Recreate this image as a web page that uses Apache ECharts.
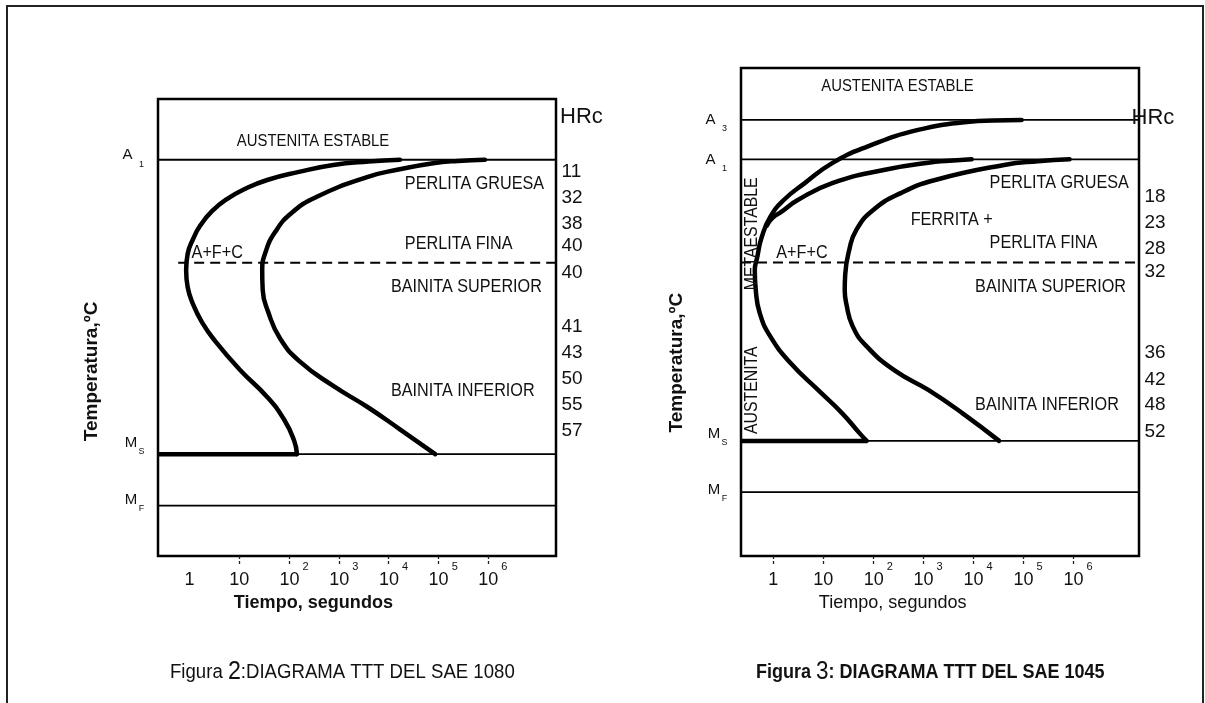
<!DOCTYPE html>
<html><head><meta charset="utf-8">
<script src="https://cdn.jsdelivr.net/npm/echarts@6/dist/echarts.min.js"></script>
<style>html,body{margin:0;padding:0;background:#fff}#c{width:1205px;height:703px}</style>
</head><body><div id="c"></div>
<script>
// ================= DATA =================
// x values are log10(time in seconds); y values are temperatures (°C, schematic)
const xLabelExp = [0, 1, 2, 3, 4, 5, 6];
const xTickExp1080 = [1, 2, 3, 4, 5, 6];
const xTickExp1045 = [0, 1, 2, 3, 4, 5, 6];

// ---- Figura 2: SAE 1080 ----
const critTemps1080 = [725, 216, 127];                 // A1, Ms, MF
const critNames1080 = [['A', '1'], ['M', 'S'], ['M', 'F']];
const critLabelTemps1080 = [733, 236, 137];
const bainite1080 = 547;
const start1080 = [[4.23,725],[3.6,722],[2.89,716],[2.2,704],[1.56,690],[1.1,674],[0.75,657],[0.45,636],[0.22,612],[0.07,588],[-0.04,562],[-0.07,534],[-0.04,505],[0.07,475],[0.25,444],[0.5,413],[1.01,362],[1.56,315],[1.9,276],[2.1,240],[2.16,216]];
const finish1080 = [[5.94,725],[5.4,723],[4.9,719],[4.2,708],[3.57,695],[2.56,661],[2.05,633],[1.72,600],[1.53,566],[1.46,534],[1.47,500],[1.58,462],[1.82,416],[2.22,376],[2.89,334],[3.57,298],[4.23,259],[4.94,216]];
const hrc1080 = ['11','32','38','40','40','41','43','50','55','57'];
const hrcTemps1080 = [704, 660, 615, 576, 530, 436, 392, 346, 301, 257];
const regions1080 = [
  ['AUSTENITA ESTABLE', 0.95, 756],
  ['PERLITA GRUESA', 4.33, 683],
  ['PERLITA FINA', 4.33, 580],
  ['A+F+C', 0.04, 563],
  ['BAINITA SUPERIOR', 4.05, 505],
  ['BAINITA INFERIOR', 4.05, 326]
];

// ---- Figura 3: SAE 1045 ----
const critTemps1045 = [787, 724, 274, 192];            // A3, A1, Ms, MF
const critNames1045 = [['A', '3'], ['A', '1'], ['M', 'S'], ['M', 'F']];
const critLabelTemps1045 = [787, 723, 286, 196];
const bainite1045 = 559;
const ferriteStart1045 = [[4.97,787],[4.4,786],[3.93,784],[2.90,771],[1.87,744],[1.18,718],[0.63,686],[0.21,659],[-0.06,632],[-0.23,600],[-0.32,568],[-0.37,547],[-0.35,515],[-0.27,478],[-0.06,441],[0.35,398],[0.90,355],[1.38,318],[1.73,286],[1.87,274]];
const pearliteStart1045 = [[3.97,724],[3.6,722],[3.24,720],[2.21,707],[1.18,686],[0.49,659],[0.16,640],[-0.02,630],[-0.13,618]];
const finish1045 = [[5.93,724],[5.3,721],[4.62,715],[3.24,691],[2.55,670],[2.00,643],[1.66,611],[1.52,579],[1.44,540],[1.43,515],[1.46,494],[1.59,457],[1.87,425],[2.42,387],[3.11,355],[3.79,318],[4.52,274]];
const hrc1045 = ['18','23','28','32','36','42','48','52'];
const hrcTemps1045 = [664, 623, 581, 544, 415, 372, 331, 289];
const regions1045 = [
  ['AUSTENITA ESTABLE', 0.96, 840],
  ['PERLITA GRUESA', 4.33, 686],
  ['FERRITA +', 2.75, 627],
  ['PERLITA FINA', 4.33, 591],
  ['A+F+C', 0.06, 575],
  ['BAINITA SUPERIOR', 4.04, 520],
  ['BAINITA INFERIOR', 4.04, 331]
];
const vertical1045 = [['METAESTABLE', -0.43, 605], ['AUSTENITA', -0.43, 355]];

// ================= LAYOUT / STYLE =================
const FF = "'Liberation Sans', Arial, Helvetica, sans-serif";
const INK = '#111';
const grids = [
  {left: 158, top: 99, width: 398, height: 457},
  {left: 741, top: 68, width: 398, height: 488}
];
const xRange = [[-0.636, 7.37], [-0.646, 7.32]];
const yRange = [[40, 830], [90, 870]];

const chart = echarts.init(document.getElementById('c'), null, {renderer: 'canvas'});

function xLabelFmt(v) {
  const e = Math.round(v);
  if (e === 0) return '{n|1}';
  if (e === 1) return '{n|10}';
  return '{p| }{n|10}{s|' + e + '}';
}
const xRich = {
  n: {fontSize: 18, fontFamily: FF, color: INK, lineHeight: 28, verticalAlign: 'bottom'},
  s: {fontSize: 11, fontFamily: FF, color: INK, lineHeight: 11, verticalAlign: 'top', padding: [0, 0, 0, 3]},
  p: {width: 10, fontSize: 10, lineHeight: 10}
};

function curve(data, gi) {
  return {type: 'line', xAxisIndex: gi, yAxisIndex: gi, data: data, smooth: 0.5, symbol: 'none', silent: true, z: 5,
    lineStyle: {color: '#000', width: 4.5, cap: 'round', join: 'round'}};
}
function hline(t, gi, width, dashed, x0, x1) {
  return {type: 'line', xAxisIndex: gi, yAxisIndex: gi, symbol: 'none', silent: true, z: 3,
    data: [[x0 == null ? xRange[gi][0] : x0, t], [x1 == null ? xRange[gi][1] : x1, t]],
    lineStyle: {color: '#000', width: width, type: dashed ? [10, 6] : 'solid'}};
}

const series = [];
critTemps1080.forEach(t => series.push(hline(t, 0, 1.8, false)));
series.push(hline(bainite1080, 0, 2, true, -0.23));
series.push(hline(critTemps1080[1], 0, 4.5, false, xRange[0][0], start1080[start1080.length - 1][0]));
series.push(curve(start1080, 0), curve(finish1080, 0));
critTemps1045.forEach(t => series.push(hline(t, 1, 1.8, false)));
series.push(hline(bainite1045, 1, 2, true));
series.push(hline(critTemps1045[2], 1, 4.5, false, xRange[1][0], ferriteStart1045[ferriteStart1045.length - 1][0]));
series.push(curve(ferriteStart1045, 1), curve(pearliteStart1045, 1), curve(finish1045, 1));

chart.setOption({
  animation: false,
  backgroundColor: '#fff',
  grid: grids.map(g => Object.assign({show: true, borderColor: '#000', borderWidth: 2.5, backgroundColor: 'transparent'}, g)),
  xAxis: [0, 1].map(i => ({
    gridIndex: i, type: 'value', min: xRange[i][0], max: xRange[i][1],
    axisLine: {show: false}, splitLine: {show: false},
    axisTick: {show: true, customValues: i === 0 ? xTickExp1080 : xTickExp1045, length: 8,
      lineStyle: {color: '#222', width: 1.3, type: [3, 2]}},
    axisLabel: {customValues: xLabelExp, formatter: xLabelFmt, rich: xRich, margin: 5}
  })),
  yAxis: [0, 1].map(i => ({
    gridIndex: i, type: 'value', min: yRange[i][0], max: yRange[i][1],
    axisLine: {show: false}, axisTick: {show: false}, axisLabel: {show: false}, splitLine: {show: false}
  })),
  series: series
});

// ================= ANNOTATIONS (placed through the chart's scales) =================
const px = (gi, x, y) => chart.convertToPixel({gridIndex: gi}, [x, y]);
const g = [];
function txt(x, y, text, o) {
  o = o || {};
  g.push({type: 'text', x: x, y: y, rotation: o.rot || 0, scaleX: o.sx || 1, z: 20, silent: true,
    style: {text: text, fontSize: o.fs || 18, fontFamily: FF, fontWeight: o.fw || 'normal', fill: INK,
      align: o.align || 'left', verticalAlign: 'middle', rich: o.rich}});
}
// outer frame
g.push({type: 'rect', z: 1, silent: true, shape: {x: 7, y: 6, width: 1196, height: 730}, style: {fill: 'none', stroke: '#222', lineWidth: 2}});

function annotate(gi, critNames, critLabelTemps, hrc, hrcTemps, regions, hrcDx, xTitleExp, yTitleTemp, yTitleGap) {
  const gr = grids[gi];
  const right = gr.left + gr.width;
  critNames.forEach((nm, k) => {
    const y = px(gi, 0, critLabelTemps[k])[1];
    txt(gr.left - (nm[0] === 'A' ? 30.5 : 27), y, nm[0], {fs: 15, align: 'center'});
    txt(gr.left - 16.5, y + 9, nm[1], {fs: 9, align: 'center'});
  });
  txt(right + hrcDx, px(gi, 0, yRange[gi][1])[1] + (gi === 0 ? 18 : 50), 'HRc', {fs: 22});
  hrc.forEach((h, k) => txt(right + 5.5, px(gi, 0, hrcTemps[k])[1], h, {fs: 19}));
  regions.forEach(r => {
    const p = px(gi, r[1], r[2]);
    const small = r[0] === 'AUSTENITA ESTABLE';
    txt(p[0], p[1], r[0], {fs: small ? 16 : 18, sx: small ? 0.93 : 0.9});
  });
  const bottom = gr.top + gr.height;
  txt(px(gi, xTitleExp, 0)[0], bottom + 47, 'Tiempo, segundos', {fs: 19, fw: gi === 0 ? 'bold' : 'normal', align: 'center', sx: 0.95});
  txt(gr.left - yTitleGap, px(gi, 0, yTitleTemp)[1], 'Temperatura,ºC', {fs: 19, fw: 'bold', align: 'center', rot: Math.PI / 2});
}
annotate(0, critNames1080, critLabelTemps1080, hrc1080, hrcTemps1080, regions1080, 4, 2.49, 359, 66);
annotate(1, critNames1045, critLabelTemps1045, hrc1045, hrcTemps1045, regions1045, -7.5, 2.39, 399, 64);
vertical1045.forEach(v => {
  const p = px(1, v[1], v[2]);
  txt(p[0], p[1], v[0], {fs: 18, sx: 0.88, align: 'center', rot: Math.PI / 2});
});

// captions
txt(170, 672, '{a|Figura }{b|2}{a|:DIAGRAMA TTT DEL SAE 1080}', {sx: 0.93, rich: {
  a: {fontSize: 20, fontFamily: FF, fill: INK, color: INK},
  b: {fontSize: 25, fontFamily: FF, fill: INK, color: INK}}});
txt(756, 672, '{a|Figura }{b|3}{a|: DIAGRAMA TTT DEL SAE 1045}', {sx: 0.9, rich: {
  a: {fontSize: 20, fontFamily: FF, fontWeight: 'bold', fill: INK, color: INK},
  b: {fontSize: 25, fontFamily: FF, fill: INK, color: INK}}});

chart.setOption({graphic: g});
</script></body></html>
